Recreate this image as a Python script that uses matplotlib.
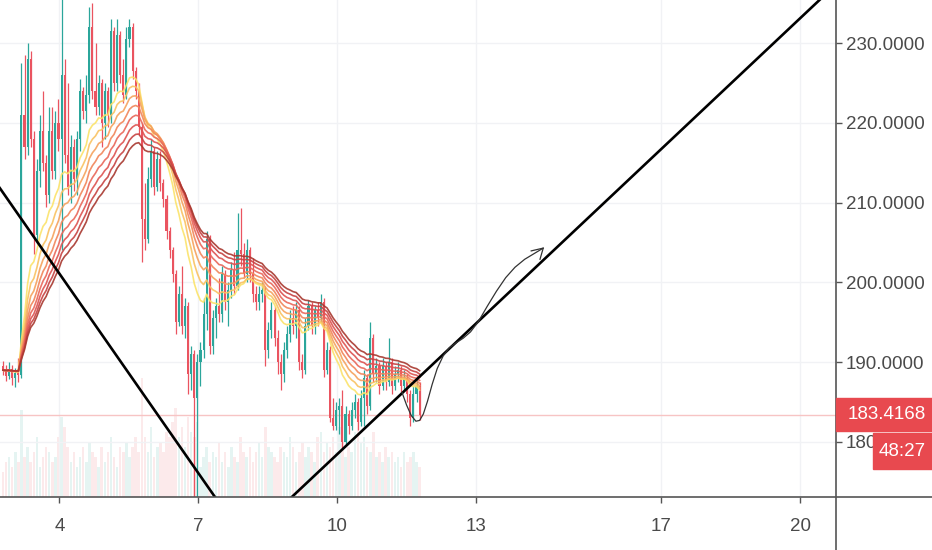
import matplotlib
matplotlib.use("Agg")
import matplotlib.pyplot as plt
import numpy as np
import pandas as pd
from matplotlib.colors import LinearSegmentedColormap
from matplotlib.lines import Line2D
from matplotlib.patches import Rectangle

# candle data, one candle every 1/15 day
first_open = 189.5
closes = [
    189.0, 188.3, 189.2, 188.0, 188.6, 188.4, 221.0, 217.0, 228.0, 218.0,
    206.0, 214.0, 219.0, 215.0, 211.0, 219.0, 214.0, 220.0, 218.0, 226.0,
    216.0, 212.0, 217.0, 213.0, 218.0, 224.0, 221.5, 223.5, 232.0, 224.0,
    222.0, 225.0, 220.0, 224.0, 221.0, 231.5, 225.0, 231.0, 226.0, 223.5,
    230.5, 232.0, 226.5, 224.0, 219.5, 208.0, 205.5, 213.0, 216.5, 212.0,
    215.5, 212.5, 210.5, 206.5, 204.0, 201.0, 195.0, 198.5, 194.5, 197.0,
    188.5, 191.0, 185.5, 190.0, 191.5, 196.0, 205.5, 192.0, 195.5, 197.0,
    196.0, 201.0, 197.5, 199.0, 201.5, 199.5, 204.0, 203.5, 201.0, 204.0,
    201.0, 198.5, 197.5, 198.5, 199.0, 191.5, 194.0, 196.5, 193.0, 190.0,
    188.5, 191.5, 193.5, 195.5, 194.5, 196.5, 190.0, 189.0, 194.5, 197.0,
    194.5, 196.5, 195.5, 197.5, 189.0, 191.5, 183.0, 182.0, 184.0, 184.5,
    180.0, 183.5, 182.0, 184.0, 185.0, 182.5, 185.5, 188.0, 184.5, 193.0,
    188.5, 189.5, 187.0, 189.5, 187.5, 190.0, 187.0, 188.5, 189.0, 187.0,
    188.0, 186.0, 183.0, 186.0, 187.0, 183.4168,
]
highs = [
    190.2, 189.6, 190.0, 189.6, 189.3, 190.5, 227.5, 228.5, 230.0, 229.0,
    219.0, 215.5, 221.0, 224.0, 216.0, 222.0, 222.0, 221.5, 223.0, 236.0,
    228.0, 225.0, 218.5, 218.0, 219.0, 225.5, 224.5, 226.0, 234.5, 235.0,
    230.0, 226.0, 225.5, 225.0, 224.5, 233.0, 232.0, 233.0, 231.5, 228.0,
    232.0, 233.0, 232.5, 227.0, 225.0, 220.0, 212.5, 214.5, 218.0, 217.0,
    216.5, 216.5, 213.0, 211.0, 207.0, 204.5, 201.5, 199.5, 202.0, 198.0,
    197.5, 192.0, 191.5, 191.0, 192.5, 198.0, 206.5, 206.0, 196.5, 198.0,
    200.5, 202.0, 201.5, 200.0, 202.5, 203.8, 208.7, 209.3, 205.0, 205.5,
    204.5, 203.0, 199.5, 199.5, 200.0, 199.5, 195.0, 197.5, 197.0, 194.0,
    191.0, 192.5, 194.5, 196.5, 197.0, 197.5, 197.0, 191.0, 195.5, 197.8,
    197.5, 197.0, 197.5, 198.5, 198.0, 192.5, 192.0, 185.5, 185.0, 185.5,
    186.5, 184.5, 184.0, 185.0, 186.0, 185.5, 186.5, 189.0, 188.5, 195.0,
    193.5, 190.5, 190.0, 190.5, 190.0, 193.0, 190.5, 189.5, 190.0, 189.5,
    189.0, 188.5, 186.5, 187.0, 188.0, 187.5,
]
lows = [
    188.4, 187.6, 187.9, 187.2, 186.9, 187.5, 188.0, 215.5, 216.0, 217.0,
    203.5, 205.0, 212.0, 214.0, 209.5, 210.0, 213.0, 213.0, 216.5, 204.0,
    215.0, 211.0, 210.0, 211.5, 211.0, 216.5, 220.5, 220.0, 222.5, 223.0,
    221.0, 221.0, 217.0, 218.0, 219.5, 220.0, 224.0, 224.0, 225.0, 222.5,
    223.0, 229.5, 225.5, 223.0, 218.5, 202.5, 204.0, 205.0, 212.0, 211.0,
    211.5, 211.5, 209.5, 205.5, 203.0, 200.0, 193.5, 194.5, 193.5, 193.0,
    186.0, 186.5, 172.5, 173.0, 187.0, 190.5, 194.0, 191.0, 191.0, 193.0,
    195.0, 195.0, 196.5, 194.5, 198.0, 198.5, 199.0, 202.0, 200.5, 200.0,
    200.0, 197.5, 196.5, 196.5, 197.5, 189.5, 190.5, 193.0, 192.0, 188.5,
    186.5, 187.5, 190.5, 192.5, 193.5, 193.0, 189.0, 188.0, 188.5, 194.0,
    193.5, 193.5, 194.5, 195.0, 188.2, 188.5, 182.5, 181.5, 181.5, 181.0,
    179.3, 179.8, 181.0, 181.5, 183.0, 181.5, 182.0, 182.0, 183.5, 184.0,
    187.5, 187.5, 186.0, 186.5, 186.5, 187.0, 186.0, 186.5, 187.5, 186.0,
    186.5, 185.0, 182.0, 182.5, 185.0, 182.8,
]
volumes = [
    5, 7, 8, 6, 9, 7, 17.5, 8, 10, 7,
    9, 12, 6, 8, 10, 9, 7, 8, 12, 16,
    14, 10, 7, 9, 6, 8, 10, 7, 11, 9,
    8, 6, 10, 7, 9, 12, 8, 6, 10, 9,
    11, 8, 10, 12, 9, 24, 12, 9, 14, 8,
    10, 11, 9, 13, 12, 15, 18, 12, 14, 10,
    16, 13, 12, 15, 6, 8, 10, 7, 9, 8,
    11, 7, 9, 6, 10, 8, 7, 12, 9, 8,
    10, 7, 9, 11, 8, 14, 10, 9, 8, 7,
    10, 9, 8, 12, 10, 7, 9, 11, 8, 10,
    9, 7, 12, 13, 9, 11, 10, 12, 9, 14,
    11, 8, 10, 9, 13, 15, 11, 12, 10, 9,
    13, 8, 9, 7, 10, 8, 9, 7, 8, 6,
    9, 7, 8, 9, 7, 6,
]
start_day = 2.78
step_day = 1 / 15

ema_lengths = [15, 19, 23, 27, 31, 35, 39, 43]

# hand drawn lines (day, price)
trend_a_days = [2.5, 7.6]
trend_a_prices = [213.6, 171.1]
trend_b_days = [8.8, 20.6]
trend_b_prices = [171.9, 236.4]
arrow_days = [11.40, 11.50, 11.60, 11.70, 11.78, 11.86, 11.95, 12.05,
              12.16, 12.29, 12.42, 12.56, 12.72, 12.88, 13.05, 13.24,
              13.44, 13.64, 13.84, 14.05, 14.25, 14.45]
arrow_prices = [186.2, 184.6, 183.3, 182.6, 182.7, 183.5, 185.1, 187.2,
                189.2, 190.8, 191.8, 192.4, 193.0, 193.8, 195.1, 197.0,
                198.9, 200.6, 201.9, 202.9, 203.6, 204.3]
head_days = [14.19, 14.45, 14.38]
head_prices = [203.95, 204.3, 202.9]

x_ticks = [4, 7, 10, 13, 17, 20]
y_ticks = [180, 190, 200, 210, 220, 230]
y_labels = ["180", "190.0000", "200.0000", "210.0000", "220.0000", "230.0000"]
countdown = "48:27"

up_col = "#2ba69b"
down_col = "#ea5460"
text_col = "#4a4a4a"

plt.rcParams["font.family"] = ["Liberation Sans Narrow", "Liberation Sans", "DejaVu Sans"]

n = len(closes)
days = start_day + step_day * np.arange(n)
opens = np.array([first_open] + closes[:-1])
closes_a = np.array(closes)
colors = np.where(closes_a >= opens, up_col, down_col)

W, H = 932, 550
fig = plt.figure(figsize=(W / 100, H / 100), dpi=100)
fig.patch.set_facecolor("white")
ax = fig.add_axes([0, 53 / H, 836 / W, 497 / H])
vax = ax.twinx()

# volume
vax.bar(days, volumes, width=0.055, color=colors, alpha=0.12, linewidth=0)
vax.set_ylim(0, 100)
vax.axis("off")
ax.set_zorder(vax.get_zorder() + 1)
ax.patch.set_visible(False)

# candles
ax.vlines(days, lows, highs, colors=colors, lw=0.9, zorder=3)
body = np.abs(closes_a - opens)
body = np.where(body < 0.2, 0.2, body)
ax.bar(days, body, bottom=np.minimum(opens, closes_a), width=0.045,
       color=colors, linewidth=0, zorder=3)

# ema ribbon
cmap = LinearSegmentedColormap.from_list(
    "rib", ["#fbe36a", "#f8b45f", "#f28a5a", "#e8625a", "#d4474a", "#a8382f"])
cs = pd.Series(closes)
for k, L in enumerate(ema_lengths):
    ema = cs.ewm(span=L, adjust=False).mean()
    ax.plot(days, ema, color=cmap(k / (len(ema_lengths) - 1)), lw=1.2,
            alpha=0.9, zorder=4)

# current price line
ax.axhline(closes[-1], color="#f7c4c4", lw=1, zorder=2)

# drawings
ax.plot(trend_a_days, trend_a_prices, color="black", lw=1.9, zorder=5)
ax.plot(trend_b_days, trend_b_prices, color="black", lw=1.9, zorder=5)
ax.plot(arrow_days, arrow_prices, color="#333333", lw=0.9, zorder=5)
ax.plot(head_days, head_prices, color="#333333", lw=0.9, zorder=5)

ax.set_xlim(2.717, 2.717 + 836 / 46.3)
ax.set_ylim(173.1, 235.4)
ax.set_xticks(x_ticks)
ax.set_xticklabels([str(t) for t in x_ticks])
ax.set_yticks(y_ticks)
ax.set_yticklabels(y_labels)
ax.yaxis.tick_right()
ax.grid(color="#f1f2f5", lw=1, zorder=0)
ax.set_axisbelow(True)
for s in ax.spines.values():
    s.set_visible(False)
ax.tick_params(axis="y", length=4, width=1, color="#555555", pad=3,
               labelsize=13.5, labelcolor=text_col)
ax.tick_params(axis="x", length=4, width=1, color="#555555", pad=11,
               labelsize=13.5, labelcolor=text_col)

# axis lines
fig.add_artist(Line2D([0, 1], [53 / H, 53 / H], color="#555555", lw=1.2,
                      transform=fig.transFigure))
fig.add_artist(Line2D([836 / W, 836 / W], [0, 1], color="#555555", lw=1.2,
                      transform=fig.transFigure))

# price label and countdown
py = ax.transData.transform((3, closes[-1]))[1] / H
lab_h = 33 / H
fig.add_artist(Rectangle((836 / W, py - lab_h / 2), 96 / W, lab_h,
                         transform=fig.transFigure, color="#e8494f", zorder=5))
fig.text(848 / W, py, f"{closes[-1]:.4f}", color="white", fontsize=13.5,
         va="center", ha="left", zorder=6)
cd_top = py - lab_h / 2 - 2 / H
fig.add_artist(Rectangle((873 / W, cd_top - 36 / H), 59 / W, 36 / H,
                         transform=fig.transFigure, color="#e8494f", zorder=5))
fig.text(879 / W, cd_top - 18 / H, countdown, color="white", fontsize=13.5,
         va="center", ha="left", zorder=6)

fig.savefig("out.png", dpi=100)
